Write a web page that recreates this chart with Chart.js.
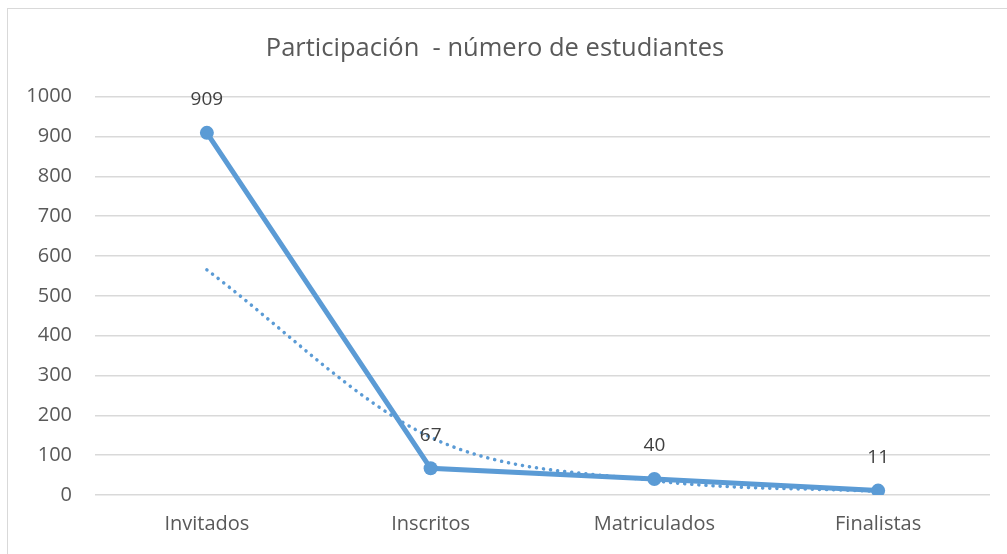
<!DOCTYPE html>
<html>
<head>
<meta charset="utf-8">
<script src="https://cdn.jsdelivr.net/npm/chart.js@4.4.1/dist/chart.umd.min.js"></script>
<style>
  html, body { margin: 0; padding: 0; background: #fff; overflow: hidden; }
  #wrap { position: relative; width: 1007px; height: 554px; }
  #frame { position: absolute; left: 7px; top: 8px; width: 1100px; height: 700px; border: 1px solid #d9d9d9; }
  #c { position: absolute; left: 0; top: 0; }
</style>
</head>
<body>
<div id="wrap">
  <div id="frame"></div>
  <canvas id="c" width="1007" height="554"></canvas>
</div>
<script>
// chart data
const categories = ['Invitados', 'Inscritos', 'Matriculados', 'Finalistas'];
const students = [909, 67, 40, 11];
// dotted trend line
const trend = [565, 145, 36, 9];
const yTicks = [0, 100, 200, 300, 400, 500, 600, 700, 800, 900, 1000];

const blue = '#5b9bd5';
const textColor = '#595959';
const fontFamily = "'Open Sans', 'Noto Sans', sans-serif";

// draws the number above each point of the main series
const pointLabels = {
    id: 'pointLabels',
    afterDatasetsDraw(chart) {
        let ctx = chart.ctx;
        let meta = chart.getDatasetMeta(0);
        ctx.save();
        ctx.font = '19px ' + fontFamily;
        ctx.fillStyle = '#404040';
        ctx.textAlign = 'center';
        ctx.textBaseline = 'middle';
        meta.data.forEach((pt, i) => {
            ctx.fillText(String(students[i]), pt.x, pt.y - 33);
        });
        ctx.restore();
    }
};

let ctx = document.getElementById('c');
var chart = new Chart(ctx, {
    type: 'line',
    data: {
        labels: categories,
        datasets: [
            {
                label: 'Participación',
                data: students,
                borderColor: blue,
                backgroundColor: blue,
                borderWidth: 5,
                pointRadius: 7,
                pointBackgroundColor: blue,
                pointBorderWidth: 0,
                tension: 0,
                fill: false,
                order: 2
            },
            {
                label: 'Tendencia',
                data: trend,
                borderColor: blue,
                borderWidth: 3.5,
                borderDash: [0.1, 7],
                borderCapStyle: 'round',
                pointRadius: 0,
                cubicInterpolationMode: 'monotone',
                fill: false,
                order: 1
            }
        ]
    },
    options: {
        responsive: false,
        animation: false,
        layout: { padding: { left: 0, right: 17, top: 0, bottom: 0 } },
        scales: {
            x: {
                offset: true,
                grid: { display: false, drawTicks: false },
                border: { display: false },
                ticks: {
                    color: textColor,
                    font: { size: 20, family: fontFamily },
                    padding: 17,
                    maxRotation: 0
                },
                afterFit: (scale) => { scale.height = 59; }
            },
            y: {
                min: 0,
                max: 1000,
                afterBuildTicks: (scale) => { scale.ticks = yTicks.map(v => ({ value: v })); },
                grid: { color: '#d9d9d9', lineWidth: 1.5, drawTicks: false },
                border: { display: false },
                ticks: {
                    color: textColor,
                    font: { size: 20, family: fontFamily },
                    padding: 23,
                    callback: (v) => String(v)
                },
                afterFit: (scale) => { scale.width = 95; }
            }
        },
        plugins: {
            legend: { display: false },
            tooltip: { enabled: false },
            title: {
                display: true,
                text: 'Participación  - número de estudiantes',
                color: textColor,
                font: { size: 25.5, weight: 'normal', family: fontFamily },
                padding: { top: 33, bottom: 33 }
            }
        }
    },
    plugins: [pointLabels]
});
</script>
</body>
</html>
